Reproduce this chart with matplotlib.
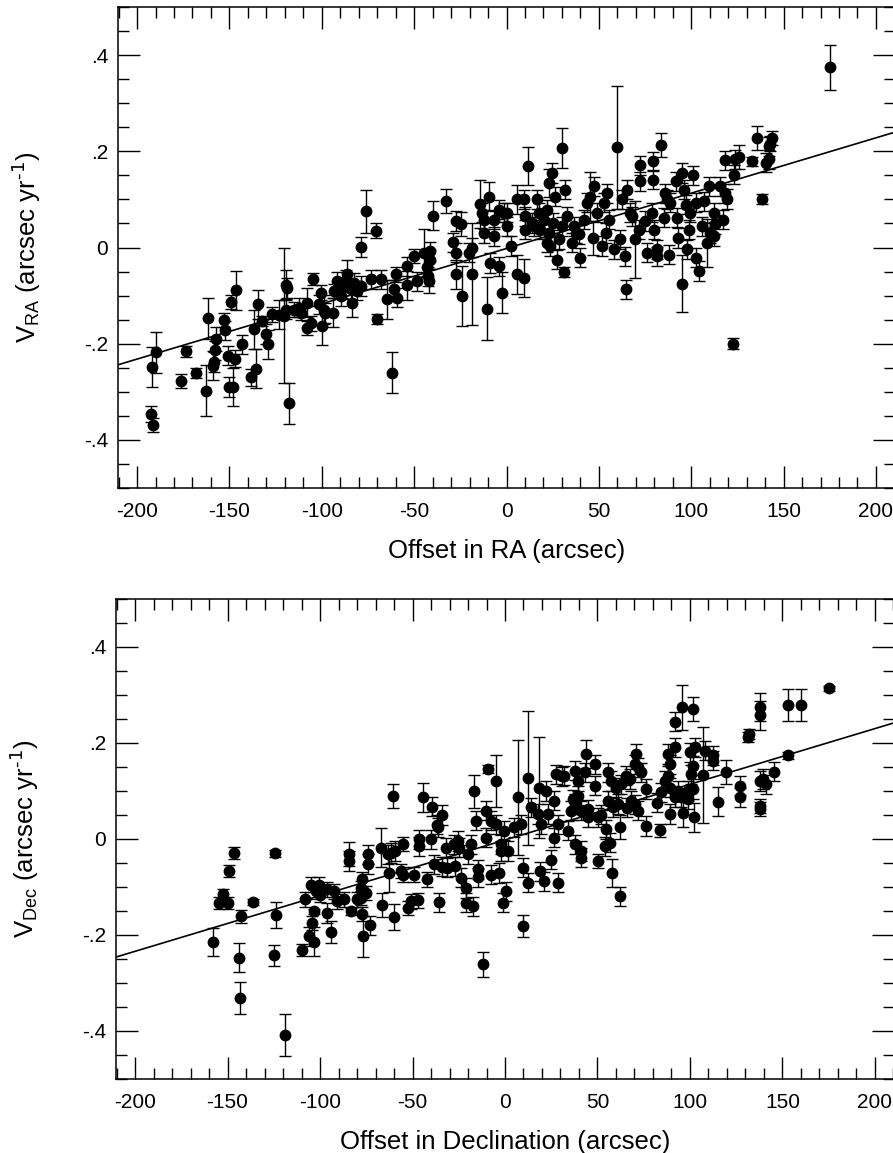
import matplotlib
matplotlib.use('Agg')
import matplotlib.pyplot as plt
import numpy as np
from matplotlib.ticker import MultipleLocator, FuncFormatter

plt.rcParams['font.family'] = ['Liberation Sans', 'DejaVu Sans']
plt.rcParams['mathtext.default'] = 'regular'
plt.rcParams['axes.unicode_minus'] = False

# ---- RA panel: offset (arcsec), velocity (arcsec/yr), 1-sigma error ----
ra_offset = [
    -192.6, -191.2, -191.7, -190.0, -176.4, -173.5, -168.3, -162.5, -161.6, -158.9,
    -158.5, -157.8, -157.1, -153.0, -152.2, -150.6, -150.3, -149.4, -147.9, -147.0,
    -146.6, -143.0, -138.5, -136.7, -135.8, -134.6, -132.3, -130.4, -129.0, -126.8,
    -123.2, -120.5, -119.2, -119.0, -117.8, -119.6, -115.1, -112.4, -111.5, -107.8,
    -108.2, -106.0, -104.8, -100.6, -101.5, -99.7, -98.9, -98.0, -94.0, -93.5,
    -91.6, -89.8, -88.9, -87.1, -86.2, -84.4, -83.5, -82.6, -80.8, -79.0,
    -78.5, -75.9, -70.9, -73.6, -70.0, -68.2, -64.6, -61.9, -61.0, -60.0,
    -59.2, -54.1, -53.7, -50.2, -48.3, -44.7, -43.0, -42.4, -42.2, -41.3,
    -41.5, -39.9, -33.0,
    -28.9, -27.6, -27.6, -27.6, -24.9, -24.0, -20.4, -18.9, -18.9, -14.1,
    -10.8, -9.6, -13.2, -12.3, -12.3, -8.7, -6.9, -6.9, -4.2, -4.2,
    -2.7, -1.5, 0.4, 0.4, 2.2, 5.8, 9.7, 5.8, 9.4, 11.7,
    9.9, 10.0, 13.9, 14.8, 16.6, 17.5, 18.4, 20.2, 22.0, 22.9,
    24.7, 22.9, 23.5, 22.0, 25.2, 26.5, 27.4, 28.3, 30.1, 31.0,
    31.9, 32.8, 30.3, 35.6, 36.5, 37.4, 39.7, 39.2, 41.8, 43.6,
    45.1, 46.9, 47.1, 48.9, 51.8, 52.7, 53.6, 54.5, 55.4, 58.1,
    59.9, 61.7, 62.6, 64.4, 64.9, 65.3, 67.1, 68.0, 69.8, 71.6,
    72.5, 72.5, 75.2, 76.1, 78.8, 79.4, 79.5, 79.9, 81.5, 81.5,
    83.9, 85.1, 86.0, 86.9, 87.8, 88.4, 91.5, 92.4, 92.6, 95.1,
    95.1, 96.0, 96.9, 97.8, 98.7, 99.6, 101.0, 102.4, 102.8, 104.4,
    105.9, 107.1, 108.6, 109.5, 110.2, 112.2, 112.2, 113.1, 115.8, 117.2,
    118.5, 118.5, 119.4, 122.5, 123.0, 123.9, 125.7, 133.0, 135.7, 138.4,
    140.2, 142.0, 142.0, 143.8, 142.9, 175.0,
]
ra_vel = [
    -0.346, -0.369, -0.248, -0.218, -0.278, -0.216, -0.261, -0.298, -0.147, -0.246,
    -0.238, -0.214, -0.190, -0.151, -0.172, -0.225, -0.290, -0.113, -0.290, -0.231,
    -0.089, -0.201, -0.270, -0.170, -0.252, -0.118, -0.153, -0.180, -0.201, -0.139,
    -0.140, -0.142, -0.077, -0.084, -0.324, -0.129, -0.129, -0.125, -0.136, -0.115,
    -0.167, -0.158, -0.065, -0.094, -0.118, -0.163, -0.129, -0.136, -0.136, -0.090,
    -0.070, -0.101, -0.084, -0.067, -0.056, -0.087, -0.115, -0.074, -0.090, -0.080,
    0.001, 0.075, 0.035, -0.066, -0.149, -0.066, -0.108, -0.260, -0.087, -0.056,
    -0.104, -0.079, -0.039, -0.018, -0.070, -0.011, -0.040, -0.060, -0.070, -0.025,
    -0.008, 0.066, 0.097,
    0.011, -0.056, 0.055, -0.011, 0.048, -0.101, -0.011, -0.056, 0.000, 0.091,
    -0.127, 0.106, 0.072, 0.030, 0.058, -0.032, 0.058, 0.023, -0.039, 0.079,
    -0.094, 0.072, 0.044, 0.072, 0.003, -0.056, -0.063, 0.100, 0.100, 0.169,
    0.065, 0.037, 0.051, 0.044, 0.100, 0.072, 0.037, 0.058, 0.079, 0.134,
    0.155, 0.030, 0.003, 0.010, 0.051, 0.106, -0.025, 0.017, 0.207, -0.051,
    0.120, 0.065, 0.044, 0.010, 0.044, 0.030, -0.021, 0.028, 0.058, 0.093,
    0.106, 0.020, 0.127, 0.072, 0.003, 0.093, 0.030, 0.113, 0.058, -0.004,
    0.208, 0.017, 0.100, -0.018, -0.087, 0.120, 0.072, 0.065, 0.017, 0.037,
    0.171, 0.138, 0.055, -0.011, 0.072, 0.179, 0.141, 0.037, -0.004, -0.018,
    0.214, 0.062, 0.113, 0.100, -0.015, 0.093, 0.138, 0.062, 0.020, 0.155,
    -0.075, 0.120, 0.089, -0.004, 0.037, 0.072, 0.150, 0.093, -0.021, -0.049,
    0.044, 0.096, 0.010, 0.127, 0.030, 0.072, 0.023, 0.048, 0.127, 0.058,
    0.181, 0.113, 0.101, -0.200, 0.151, 0.183, 0.189, 0.179, 0.228, 0.101,
    0.176, 0.183, 0.210, 0.228, 0.216, 0.375,
]
ra_err = [
    0.016, 0.015, 0.042, 0.043, 0.014, 0.012, 0.010, 0.053, 0.043, 0.030,
    0.020, 0.020, 0.025, 0.015, 0.020, 0.020, 0.020, 0.015, 0.040, 0.018,
    0.041, 0.020, 0.018, 0.040, 0.040, 0.030, 0.010, 0.020, 0.030, 0.015,
    0.030, 0.140, 0.030, 0.020, 0.043, 0.020, 0.015, 0.020, 0.015, 0.030,
    0.015, 0.015, 0.012, 0.015, 0.020, 0.040, 0.030, 0.020, 0.030, 0.015,
    0.020, 0.020, 0.020, 0.020, 0.030, 0.020, 0.030, 0.020, 0.020, 0.020,
    0.020, 0.045, 0.015, 0.020, 0.010, 0.020, 0.040, 0.043, 0.020, 0.015,
    0.020, 0.030, 0.020, 0.015, 0.020, 0.050, 0.020, 0.020, 0.025, 0.020,
    0.020, 0.030, 0.025,
    0.020, 0.030, 0.020, 0.020, 0.025, 0.062, 0.020, 0.106, 0.020, 0.050,
    0.065, 0.030, 0.020, 0.020, 0.020, 0.020, 0.020, 0.020, 0.020, 0.020,
    0.043, 0.020, 0.020, 0.020, 0.020, 0.040, 0.040, 0.030, 0.020, 0.040,
    0.020, 0.020, 0.020, 0.020, 0.020, 0.020, 0.020, 0.020, 0.020, 0.030,
    0.020, 0.020, 0.020, 0.020, 0.020, 0.020, 0.020, 0.020, 0.041, 0.010,
    0.020, 0.020, 0.020, 0.020, 0.020, 0.020, 0.020, 0.020, 0.020, 0.020,
    0.050, 0.035, 0.020, 0.020, 0.020, 0.020, 0.020, 0.020, 0.020, 0.020,
    0.128, 0.020, 0.020, 0.020, 0.020, 0.020, 0.020, 0.020, 0.080, 0.020,
    0.020, 0.020, 0.020, 0.020, 0.020, 0.020, 0.020, 0.020, 0.020, 0.020,
    0.025, 0.020, 0.020, 0.020, 0.020, 0.020, 0.020, 0.020, 0.020, 0.020,
    0.060, 0.020, 0.020, 0.020, 0.020, 0.020, 0.020, 0.020, 0.020, 0.020,
    0.020, 0.020, 0.050, 0.020, 0.020, 0.020, 0.020, 0.020, 0.020, 0.020,
    0.020, 0.020, 0.020, 0.012, 0.020, 0.020, 0.025, 0.010, 0.025, 0.010,
    0.020, 0.020, 0.020, 0.015, 0.015, 0.047,
]
ra_fit = (0.00115, -0.002)  # slope, intercept of the drawn line

# ---- Dec panel ----
dec_offset = [
    -157.6, -154.8, -152.5, -149.8, -149.4, -146.7, -144.0, -143.1, -142.5, -136.2,
    -125.0, -124.1, -123.6, -118.7, -109.6, -107.9, -105.1, -106.1, -103.4, -104.2,
    -103.4, -102.4, -100.7, -100.2, -96.1, -93.8, -96.1, -92.5, -90.7, -87.1,
    -83.5, -84.4, -84.4, -79.8, -78.0, -77.1, -78.0, -77.1, -76.6, -75.3,
    -73.9, -74.0, -73.2, -67.2, -66.3, -63.5, -62.7, -61.8, -60.3, -60.0,
    -59.3, -56.4, -55.4, -55.4, -52.7, -51.0, -49.2, -47.2, -46.4, -46.4,
    -44.1, -41.9, -40.1, -39.2, -38.3, -37.0, -36.1, -35.6, -33.8, -33.8,
    -32.0, -31.1, -27.5, -27.1, -25.6, -24.8, -23.8, -21.1, -21.1, -20.2,
    -18.4, -17.5, -16.6, -15.7, -14.8, -14.8, -12.1, -10.3, -10.3, -9.4,
    -7.6, -7.6, -4.9, -4.9, -3.1, -2.2, -2.2, -1.2, -0.4, 0.5,
    1.5, 5.0, 7.2, 8.7, 9.6, 9.6, 12.3, 12.3, 14.1, 17.7,
    18.4, 19.1, 19.5, 21.3, 22.2, 23.1, 24.9, 26.7, 26.7, 27.6,
    28.6, 28.5, 31.0, 32.1, 34.0, 35.8, 36.7, 37.6, 37.6, 37.6,
    39.4, 39.4, 41.2, 41.2, 41.2, 43.0, 43.9, 44.8, 44.8, 48.4,
    48.4, 50.2, 50.2, 52.0, 53.8, 54.7, 55.7, 55.7, 56.5, 57.5,
    57.8, 58.4, 60.2, 61.0, 62.0, 62.3, 62.9, 65.6, 66.0, 67.4,
    68.3, 70.1, 70.1, 71.0, 71.9, 71.9, 73.7, 76.4, 76.4, 82.4,
    83.6, 84.3, 86.3, 88.2, 88.2, 89.1, 89.1, 89.1, 91.8, 91.8,
    91.8, 93.6, 95.4, 95.9, 96.3, 98.9, 99.0, 99.9, 100.8, 101.4,
    101.7, 101.7, 102.3, 102.6, 106.8, 108.0, 112.6, 112.6, 114.9, 119.4,
    127.0, 127.0, 131.5, 132.1, 137.8, 137.8, 137.8, 139.6, 141.0, 137.8,
    137.8, 145.6, 153.2, 153.2, 159.9, 175.1,
]
dec_vel = [
    -0.214, -0.133, -0.115, -0.133, -0.067, -0.029, -0.247, -0.331, -0.161, -0.131,
    -0.242, -0.030, -0.158, -0.408, -0.231, -0.126, -0.095, -0.203, -0.214, -0.175,
    -0.151, -0.109, -0.095, -0.116, -0.154, -0.193, -0.105, -0.109, -0.130, -0.126,
    -0.151, -0.032, -0.046, -0.126, -0.102, -0.084, -0.123, -0.156, -0.203, -0.112,
    -0.032, -0.052, -0.180, -0.018, -0.137, -0.032, -0.071, -0.029, 0.090, -0.163,
    -0.025, -0.067, -0.074, -0.011, -0.144, -0.130, -0.074, -0.128, -0.015, -0.001,
    0.087, -0.084, -0.001, 0.067, -0.053, 0.030, 0.024, -0.132, -0.058, 0.050,
    -0.018, -0.060, -0.011, -0.057, -0.004, -0.018, -0.081, -0.102, -0.133, -0.032,
    -0.011, -0.140, 0.099, 0.038, -0.063, -0.080, -0.261, 0.003, 0.059, 0.146,
    -0.074, 0.038, 0.121, 0.031, -0.071, -0.025, -0.011, -0.133, 0.017, -0.109,
    -0.025, 0.024, 0.087, 0.031, -0.181, -0.060, 0.127, -0.091, 0.066, 0.052,
    0.107, -0.067, 0.031, -0.088, 0.100, 0.052, -0.043, 0.003, 0.080, 0.135,
    -0.091, 0.031, 0.131, 0.132, 0.017, 0.059, 0.083, 0.142, 0.073, -0.011,
    0.121, 0.090, 0.059, -0.025, -0.039, 0.139, 0.177, 0.062, 0.045, 0.156,
    0.111, 0.045, -0.046, 0.051, -0.015, 0.020, 0.139, 0.080, -0.008, 0.121,
    -0.071, 0.066, 0.107, 0.073, -0.119, 0.024, 0.114, 0.132, 0.065, 0.125,
    0.080, 0.156, 0.072, 0.177, 0.149, 0.059, 0.139, 0.027, 0.104, 0.076,
    0.018, 0.097, 0.121, 0.177, 0.132, 0.156, 0.107, 0.052, 0.244, 0.087,
    0.191, 0.100, 0.087, 0.274, 0.055, 0.083, 0.100, 0.181, 0.135, 0.270,
    0.153, 0.104, 0.045, 0.191, 0.134, 0.184, 0.174, 0.163, 0.078, 0.140,
    0.111, 0.087, 0.212, 0.219, 0.275, 0.258, 0.121, 0.125, 0.114, 0.069,
    0.062, 0.140, 0.279, 0.174, 0.279, 0.314,
]
dec_err = [
    0.029, 0.012, 0.010, 0.012, 0.012, 0.012, 0.031, 0.033, 0.013, 0.007,
    0.022, 0.007, 0.027, 0.044, 0.013, 0.015, 0.015, 0.020, 0.030, 0.015,
    0.006, 0.015, 0.015, 0.015, 0.020, 0.023, 0.015, 0.015, 0.015, 0.015,
    0.008, 0.025, 0.020, 0.015, 0.015, 0.015, 0.015, 0.015, 0.043, 0.015,
    0.020, 0.020, 0.020, 0.040, 0.025, 0.020, 0.040, 0.020, 0.025, 0.027,
    0.020, 0.015, 0.015, 0.015, 0.015, 0.015, 0.015, 0.015, 0.020, 0.020,
    0.030, 0.015, 0.020, 0.020, 0.020, 0.020, 0.020, 0.020, 0.020, 0.020,
    0.020, 0.020, 0.020, 0.020, 0.020, 0.020, 0.020, 0.020, 0.020, 0.020,
    0.020, 0.020, 0.035, 0.020, 0.020, 0.020, 0.026, 0.020, 0.020, 0.008,
    0.020, 0.020, 0.055, 0.020, 0.020, 0.020, 0.020, 0.020, 0.020, 0.020,
    0.020, 0.020, 0.120, 0.020, 0.023, 0.020, 0.140, 0.020, 0.020, 0.020,
    0.105, 0.020, 0.020, 0.020, 0.020, 0.020, 0.020, 0.020, 0.020, 0.020,
    0.020, 0.020, 0.020, 0.020, 0.020, 0.020, 0.020, 0.020, 0.020, 0.020,
    0.020, 0.020, 0.020, 0.020, 0.020, 0.020, 0.030, 0.020, 0.020, 0.020,
    0.020, 0.020, 0.015, 0.020, 0.020, 0.020, 0.020, 0.020, 0.020, 0.020,
    0.030, 0.020, 0.020, 0.020, 0.020, 0.025, 0.020, 0.020, 0.020, 0.020,
    0.020, 0.020, 0.020, 0.020, 0.020, 0.020, 0.020, 0.020, 0.020, 0.020,
    0.013, 0.020, 0.020, 0.020, 0.020, 0.020, 0.020, 0.020, 0.020, 0.020,
    0.020, 0.020, 0.020, 0.047, 0.030, 0.020, 0.020, 0.020, 0.020, 0.025,
    0.020, 0.020, 0.030, 0.020, 0.100, 0.020, 0.020, 0.020, 0.030, 0.025,
    0.020, 0.020, 0.010, 0.010, 0.030, 0.030, 0.020, 0.020, 0.020, 0.015,
    0.015, 0.020, 0.033, 0.008, 0.033, 0.005,
]
dec_fit = (0.00116, -0.002)


def ylab(v, pos):
    if abs(v) < 1e-9:
        return '0'
    return ('%.1f' % v).replace('0.', '.')


def panel(ax, x, v, e, fit, xlabel, ylabel):
    ax.set_xlim(-210.3, 210.3)
    ax.set_ylim(-0.5, 0.5)
    xs = np.array(ax.get_xlim())
    ax.plot(xs, fit[0] * xs + fit[1], color='black', lw=1.2, zorder=2)
    ax.errorbar(x, v, yerr=e, fmt='o', color='black', ms=7.5, capsize=4.3,
                elinewidth=1.0, capthick=1.0, zorder=3)
    ax.xaxis.set_major_locator(MultipleLocator(50))
    ax.xaxis.set_minor_locator(MultipleLocator(10))
    ax.yaxis.set_major_locator(MultipleLocator(0.2))
    ax.yaxis.set_minor_locator(MultipleLocator(0.05))
    ax.yaxis.set_major_formatter(FuncFormatter(ylab))
    ax.tick_params(which='both', direction='in', top=True, right=True,
                   width=1.0, labelsize=15)
    ax.tick_params(which='major', length=15.5)
    ax.tick_params(which='minor', length=8)
    ax.tick_params(axis='x', pad=10)
    ax.tick_params(axis='y', pad=7)
    for s in ax.spines.values():
        s.set_linewidth(1.1)
    ax.set_xlabel(xlabel, fontsize=18.5, labelpad=13)
    ax.set_ylabel(ylabel, fontsize=18.5)
    ax.yaxis.set_label_coords(-0.097, 0.5)


fig = plt.figure(figsize=(8.93, 11.53), dpi=100)
ax1 = fig.add_axes([118 / 893, 1 - 488 / 1153, 777 / 893, 481 / 1153])
ax2 = fig.add_axes([116 / 893, 1 - 1079 / 1153, 778 / 893, 480 / 1153])

panel(ax1, ra_offset, ra_vel, ra_err, ra_fit,
      'Offset in RA (arcsec)', r'V$_{RA}$ (arcsec yr$^{\text{-1}}$)')
panel(ax2, dec_offset, dec_vel, dec_err, dec_fit,
      'Offset in Declination (arcsec)', r'V$_{Dec}$ (arcsec yr$^{\text{-1}}$)')

fig.savefig('out.png', dpi=100)
